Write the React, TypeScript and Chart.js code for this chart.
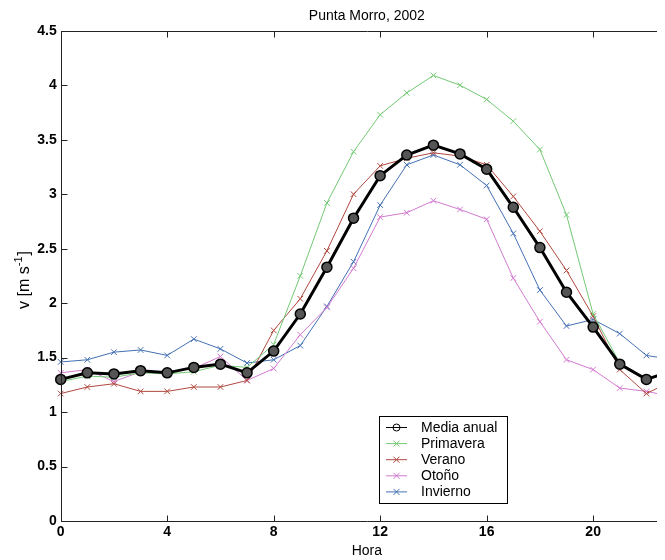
import React, { useEffect, useRef } from "react";
import { Chart, registerables } from "chart.js";

Chart.register(...registerables);

const hours = [0, 1, 2, 3, 4, 5, 6, 7, 8, 9, 10, 11, 12, 13, 14, 15, 16, 17, 18, 19, 20, 21, 22, 23];

const mediaAnual = [1.30, 1.36, 1.35, 1.38, 1.36, 1.41, 1.44, 1.36, 1.56, 1.90, 2.33, 2.78, 3.17, 3.36, 3.45, 3.37, 3.23, 2.88, 2.51, 2.10, 1.78, 1.44, 1.30, 1.38];
const primavera = [1.28, 1.33, 1.32, 1.36, 1.35, 1.37, 1.43, 1.41, 1.62, 2.25, 2.92, 3.39, 3.73, 3.93, 4.09, 4.00, 3.87, 3.67, 3.41, 2.81, 1.90, 1.45, 1.30, 1.36];
const verano = [1.17, 1.23, 1.26, 1.19, 1.19, 1.23, 1.23, 1.29, 1.75, 2.04, 2.48, 3.00, 3.26, 3.33, 3.38, 3.35, 3.27, 2.98, 2.66, 2.30, 1.88, 1.39, 1.17, 1.29];
const otono = [1.36, 1.39, 1.28, 1.37, 1.37, 1.40, 1.51, 1.29, 1.40, 1.71, 1.96, 2.32, 2.79, 2.83, 2.94, 2.86, 2.77, 2.23, 1.83, 1.48, 1.39, 1.22, 1.19, 1.14];
const invierno = [1.46, 1.48, 1.55, 1.57, 1.52, 1.67, 1.58, 1.45, 1.48, 1.61, 1.97, 2.38, 2.90, 3.27, 3.36, 3.27, 3.08, 2.64, 2.12, 1.79, 1.85, 1.72, 1.52, 1.48];

const seriesNames = ["Media anual", "Primavera", "Verano", "Otoño", "Invierno"];
const seriesColors = ["#000000", "#74c874", "#b0483e", "#d27ad0", "#4470b4"];

const xTickValues = [0, 4, 8, 12, 16, 20];
const yTickValues = [0, 0.5, 1, 1.5, 2, 2.5, 3, 3.5, 4, 4.5];

const chartTitle = "Punta Morro, 2002";
const xAxisTitle = "Hora";
const yAxisTitleMain = "v [m s";
const yAxisTitleSup = "-1";
const yAxisTitleEnd = "]";

const FONT = "'Liberation Sans', Arial, Helvetica, sans-serif";

export default function App() {
  const ref = useRef<HTMLCanvasElement>(null);

  useEffect(() => {
    const canvas = ref.current;
    if (!canvas) return;
    const allData = [mediaAnual, primavera, verano, otono, invierno];

    const datasets = allData.map((vals, i) => {
      const pts = hours.map((h, k) => ({ x: h, y: vals[k] }));
      if (i === 0) {
        return {
          label: seriesNames[i],
          data: pts,
          borderColor: seriesColors[i],
          borderWidth: 3,
          pointStyle: "circle",
          pointRadius: 5,
          pointBackgroundColor: "#555555",
          pointBorderColor: "#000000",
          pointBorderWidth: 1.5,
          tension: 0,
          clip: false as any,
        };
      }
      return {
        label: seriesNames[i],
        data: pts,
        borderColor: seriesColors[i],
        borderWidth: 1,
        pointStyle: "crossRot",
        pointRadius: 4,
        pointBorderColor: seriesColors[i],
        pointBackgroundColor: seriesColors[i],
        pointBorderWidth: 1,
        tension: 0,
        clip: false as any,
      };
    });

    const framePlugin = {
      id: "matlabFrame",
      afterDraw(chart: any) {
        const { ctx, chartArea } = chart;
        const { left, right, top, bottom } = chartArea;
        const xs = chart.scales.x;
        const ys = chart.scales.y;
        const L = Math.round(left) + 0.5;
        const T = Math.round(top) + 0.5;
        const B = Math.round(bottom) + 0.5;
        const R = Math.round(right) + 0.5;
        ctx.save();
        ctx.strokeStyle = "#222222";
        ctx.lineWidth = 1;
        ctx.beginPath();
        ctx.moveTo(R, T);
        ctx.lineTo(L, T);
        ctx.lineTo(L, B);
        ctx.lineTo(R, B);
        ctx.lineTo(R, T);
        ctx.stroke();
        // inward ticks
        ctx.beginPath();
        xTickValues.forEach((v) => {
          const px = Math.round(xs.getPixelForValue(v)) + 0.5;
          ctx.moveTo(px, B);
          ctx.lineTo(px, B - 6);
          ctx.moveTo(px, T);
          ctx.lineTo(px, T + 6);
        });
        yTickValues.forEach((v) => {
          const py = Math.round(ys.getPixelForValue(v)) + 0.5;
          ctx.moveTo(L, py);
          ctx.lineTo(L + 6, py);
          ctx.moveTo(R, py);
          ctx.lineTo(R - 6, py);
        });
        ctx.stroke();

        // y axis title with superscript
        ctx.fillStyle = "#000";
        ctx.textBaseline = "middle";
        ctx.textAlign = "left";
        const mainFont = `16px ${FONT}`;
        const supFont = `11px ${FONT}`;
        ctx.font = mainFont;
        const w1 = ctx.measureText(yAxisTitleMain).width;
        const w3 = ctx.measureText(yAxisTitleEnd).width;
        ctx.font = supFont;
        const w2 = ctx.measureText(yAxisTitleSup).width;
        const total = w1 + w2 + w3 + 1;
        ctx.translate(17, 272);
        ctx.rotate(-Math.PI / 2);
        let cx = -total / 2;
        ctx.font = mainFont;
        ctx.fillText(yAxisTitleMain, cx, 0);
        cx += w1;
        ctx.font = supFont;
        ctx.fillText(yAxisTitleSup, cx, -6);
        cx += w2 + 1;
        ctx.font = mainFont;
        ctx.fillText(yAxisTitleEnd, cx, 0);
        ctx.restore();

        // legend
        ctx.save();
        const lx = 371, ly = 408, lw = 128, lh = 87;
        ctx.fillStyle = "#ffffff";
        ctx.fillRect(lx, ly, lw, lh);
        ctx.strokeStyle = "#000000";
        ctx.lineWidth = 1;
        ctx.strokeRect(lx + 0.5, ly + 0.5, lw, lh);
        ctx.font = `14px ${FONT}`;
        ctx.textBaseline = "middle";
        ctx.textAlign = "left";
        seriesNames.forEach((name, i) => {
          const yy = ly + 11.5 + i * 16.1;
          const c = seriesColors[i];
          ctx.strokeStyle = c;
          ctx.lineWidth = 1;
          ctx.beginPath();
          ctx.moveTo(lx + 7, yy);
          ctx.lineTo(lx + 28, yy);
          ctx.stroke();
          const mx = lx + 17.5;
          if (i === 0) {
            ctx.beginPath();
            ctx.arc(mx, yy, 3.5, 0, Math.PI * 2);
            ctx.stroke();
          } else {
            ctx.beginPath();
            ctx.moveTo(mx - 3, yy - 3);
            ctx.lineTo(mx + 3, yy + 3);
            ctx.moveTo(mx - 3, yy + 3);
            ctx.lineTo(mx + 3, yy - 3);
            ctx.stroke();
          }
          ctx.fillStyle = "#000000";
          ctx.fillText(name, lx + 42, yy + 0.5);
        });
        ctx.restore();
      },
    };

    const chart = new Chart(canvas, {
      type: "line",
      data: { datasets: datasets as any },
      options: {
        responsive: false,
        animation: false,
        events: [],
        layout: { padding: { left: 0, right: 15, top: 0, bottom: 0 } },
        plugins: {
          legend: { display: false },
          tooltip: { enabled: false },
          title: {
            display: true,
            text: chartTitle,
            fullSize: false,
            color: "#000",
            font: { family: FONT, size: 14, weight: "normal", lineHeight: 1.2 },
            padding: { top: 0, bottom: 6 },
          },
        },
        scales: {
          x: {
            type: "linear",
            min: 0,
            max: 23,
            grid: { display: false, drawTicks: false },
            border: { display: false },
            afterBuildTicks: (scale: any) => {
              scale.ticks = xTickValues.map((v) => ({ value: v }));
            },
            afterFit: (scale: any) => {
              scale.height = 39;
            },
            ticks: {
              autoSkip: false,
              maxRotation: 0,
              padding: 3,
              color: "#000",
              font: { family: FONT, size: 14, weight: "bold" },
              callback: (v: any) => String(v),
            },
            title: {
              display: true,
              text: xAxisTitle,
              color: "#000",
              font: { family: FONT, size: 14, weight: "normal", lineHeight: 1.2 },
              padding: { top: 0, bottom: 0 },
            },
          },
          y: {
            type: "linear",
            min: 0,
            max: 4.5,
            grid: { display: false, drawTicks: false },
            border: { display: false },
            afterBuildTicks: (scale: any) => {
              scale.ticks = yTickValues.map((v) => ({ value: v }));
            },
            afterFit: (scale: any) => {
              scale.width = 52.7;
            },
            ticks: {
              autoSkip: false,
              padding: 4,
              color: "#000",
              font: { family: FONT, size: 14, weight: "bold" },
              callback: (v: any) => String(v),
            },
            title: { display: false },
          },
        },
      },
      plugins: [framePlugin],
    });

    return () => {
      chart.destroy();
    };
  }, []);

  return (
    <div style={{ width: 657, height: 552, overflow: "hidden", position: "relative", background: "#fff" }}>
      <canvas ref={ref} width={680} height={552} style={{ display: "block" }} />
    </div>
  );
}
